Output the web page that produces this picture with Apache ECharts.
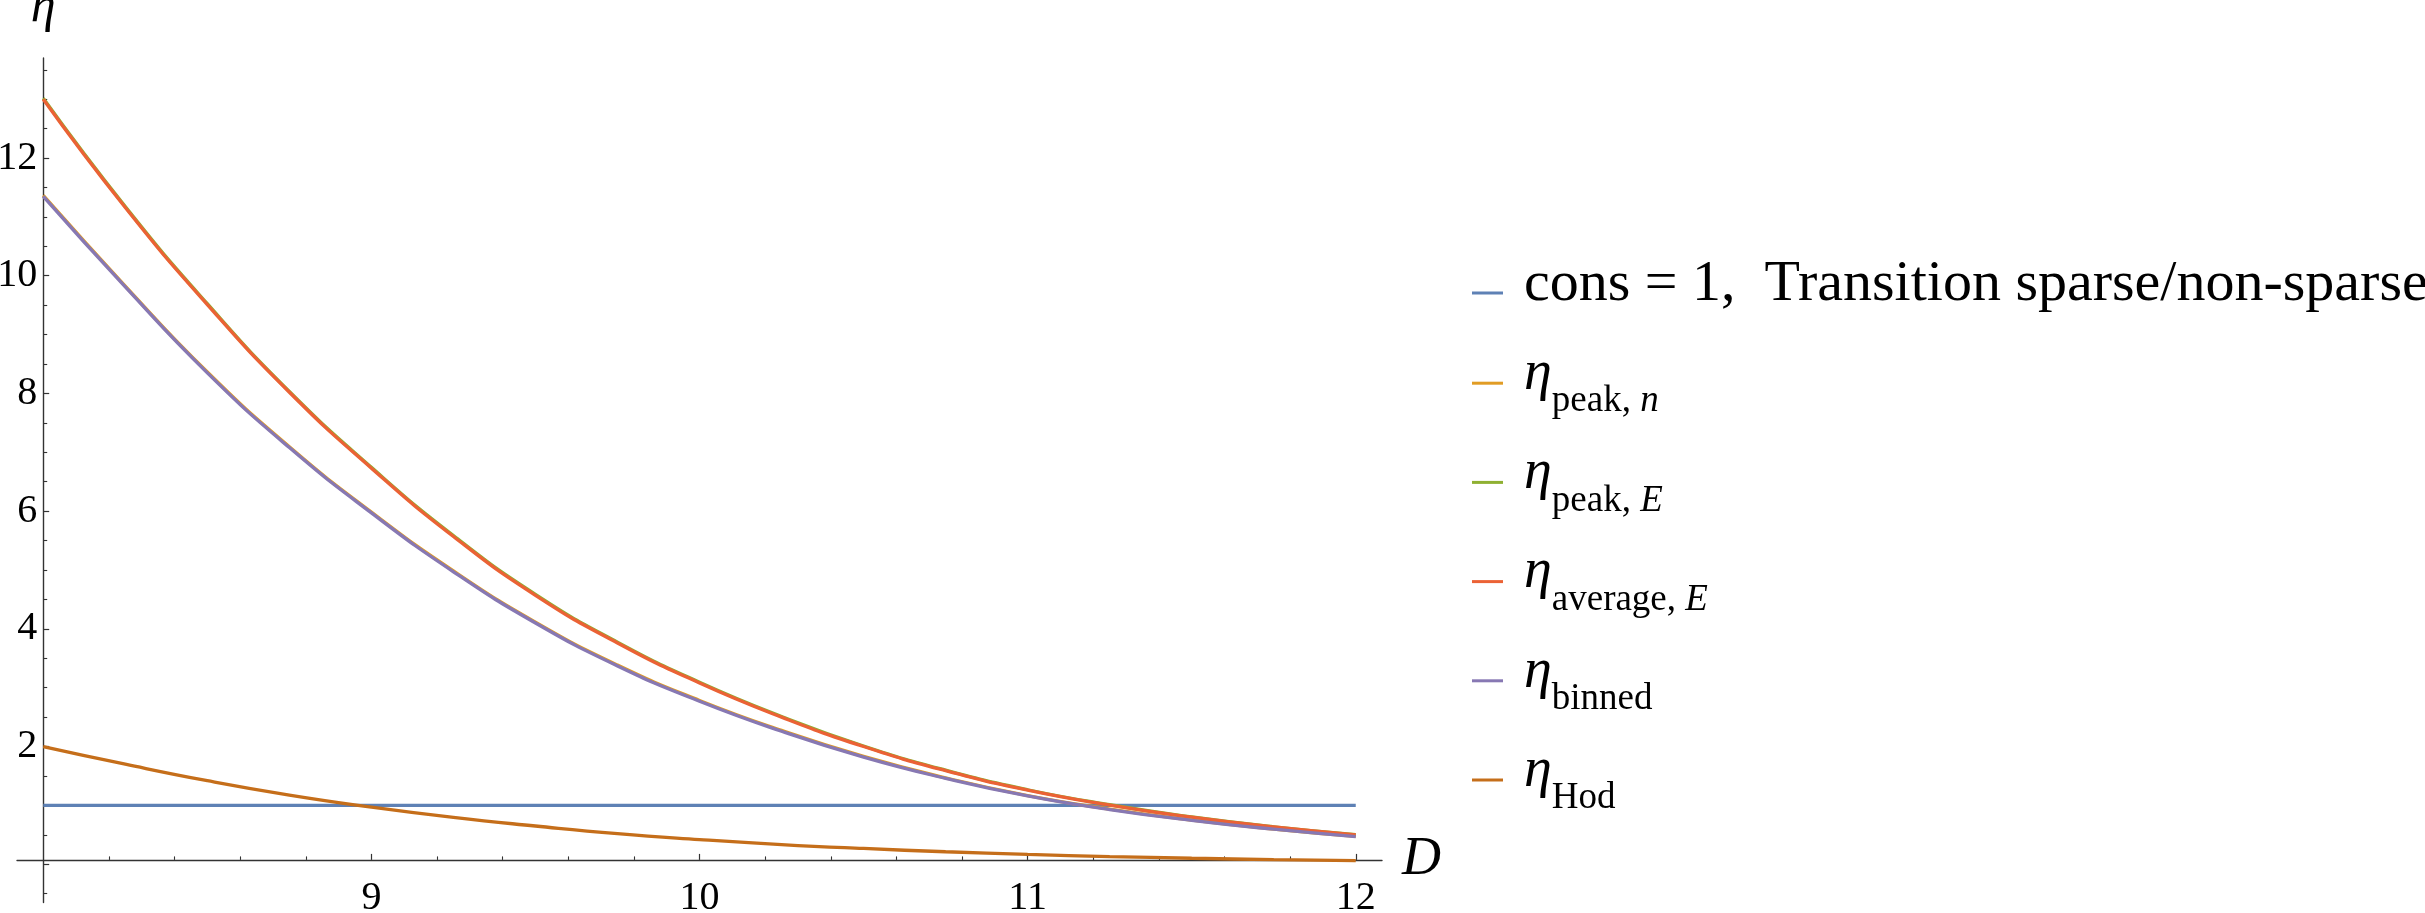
<!DOCTYPE html>
<html><head><meta charset="utf-8">
<script src="https://cdn.jsdelivr.net/npm/echarts@6/dist/echarts.min.js"></script>
<style>html,body{margin:0;padding:0;background:#fff}#c{width:2425px;height:913px}</style>
</head><body><div id="c"></div>
<script>
// ---- data ----
const D = [8, 8.25, 8.5, 8.75, 9, 9.25, 9.5, 9.75, 10, 10.25, 10.5, 10.75, 11, 11.25, 11.5, 11.75, 12];
const cons        = [1, 1, 1, 1, 1, 1, 1, 1, 1, 1, 1, 1, 1, 1, 1, 1, 1];
const etaPeakN    = [11.365, 9.825, 8.365, 7.095, 5.985, 4.985, 4.115, 3.385, 2.784, 2.274, 1.832, 1.468, 1.167, 0.937, 0.75, 0.598, 0.473];
const etaPeakE    = [13.015, 11.175, 9.525, 8.035, 6.745, 5.585, 4.585, 3.774, 3.093, 2.512, 2.01, 1.598, 1.266, 1.011, 0.804, 0.636, 0.503];
const etaAverageE = [13.00, 11.16, 9.51, 8.02, 6.73, 5.57, 4.57, 3.76, 3.08, 2.50, 2.00, 1.59, 1.26, 1.006, 0.80, 0.633, 0.50];
const etaBinned   = [11.35, 9.81, 8.35, 7.08, 5.97, 4.97, 4.10, 3.37, 2.77, 2.26, 1.82, 1.46, 1.16, 0.93, 0.745, 0.595, 0.47];
const etaHod      = [2.00, 1.70, 1.42, 1.175, 0.97, 0.795, 0.65, 0.52, 0.42, 0.335, 0.268, 0.212, 0.167, 0.131, 0.102, 0.079, 0.061];
const xTickLabels = [9, 10, 11, 12];
const xTickMarks  = [9, 10, 11, 12];
const yTickLabels = [2, 4, 6, 8, 10, 12];
const yTickMarks  = [0, 2, 4, 6, 8, 10, 12];
const seriesNames = ['cons', 'peakN', 'peakE', 'averageE', 'binned', 'Hod'];
const legendLabels = [
  '{sp| }{r|cons = 1,  Transition sparse/non-sparse}',
  '{sp| }{eta|η}{sub|peak, }{subi|n}',
  '{sp| }{eta|η}{sub|peak, }{subi|E}',
  '{sp| }{eta|η}{sub|average, }{subi|E}',
  '{sp| }{eta|η}{sub|binned}',
  '{sp| }{eta|η}{sub|Hod}'
];
const seriesValues = [cons, etaPeakN, etaPeakE, etaAverageE, etaBinned, etaHod];
const colors = ['#5E81B5', '#E19C24', '#8FB032', '#EB6235', '#8778B3', '#C56E1A'];

const FONT = '"Liberation Serif", "DejaVu Serif", serif';
const AXIS = '#333333';

const chart = echarts.init(document.getElementById('c'), null, {renderer: 'canvas'});
const option = {
  animation: false,
  backgroundColor: '#ffffff',
  grid: {left: 17, top: 58, width: 1365, height: 844.5, containLabel: false, outerBoundsMode: 'none'},
  xAxis: {
    type: 'value', min: 7.92, max: 12.08, offset: -42.6,
    name: 'D', nameLocation: 'end', nameGap: 20, nameMoveOverlap: false,
    nameTextStyle: {fontFamily: FONT, fontStyle: 'italic', fontSize: 54, color: '#000', padding: [0, 0, 8, 0]},
    axisLine: {onZero: false, lineStyle: {color: AXIS, width: 1.4}},
    axisTick: {inside: true, length: 6, customValues: xTickMarks, lineStyle: {color: AXIS, width: 1.2}},
    minorTick: {show: true, splitNumber: 5, length: 3.5, lineStyle: {color: AXIS, width: 1.1}},
    axisLabel: {customValues: xTickLabels, margin: 19, fontFamily: FONT, fontSize: 40, color: '#000'},
    splitLine: {show: false}, minorSplitLine: {show: false}
  },
  yAxis: {
    type: 'value', min: -0.65, max: 13.7, splitNumber: 7, offset: -26.2,
    name: 'η', nameLocation: 'end', nameGap: 25, nameMoveOverlap: false,
    nameTextStyle: {fontFamily: FONT, fontStyle: 'italic', fontSize: 50, color: '#000'},
    axisLine: {onZero: false, lineStyle: {color: AXIS, width: 1.4}},
    axisTick: {inside: true, length: 6, customValues: yTickMarks, lineStyle: {color: AXIS, width: 1.2}},
    minorTick: {show: true, splitNumber: 4, length: 4, lineStyle: {color: AXIS, width: 1.1}},
    axisLabel: {customValues: yTickLabels, margin: 6, fontFamily: FONT, fontSize: 40, color: '#000'},
    splitLine: {show: false}, minorSplitLine: {show: false}
  },
  legend: {
    orient: 'vertical', left: 1472, top: 256, padding: 0,
    itemWidth: 31, itemHeight: 3, itemGap: 25.2, icon: 'rect',
    data: seriesNames,
    formatter: function (name) { return legendLabels[seriesNames.indexOf(name)]; },
    textStyle: {
      fontFamily: FONT, color: '#000', fontSize: 56,
      rich: {
        sp: {width: 16, lineHeight: 74, fontSize: 56, fontFamily: FONT},
        r: {fontSize: 58, lineHeight: 54, verticalAlign: 'top', fontFamily: FONT, color: '#000'},
        eta: {fontSize: 56, fontStyle: 'italic', lineHeight: 54, verticalAlign: 'top', fontFamily: FONT, color: '#000'},
        sub: {fontSize: 37, lineHeight: 65, verticalAlign: 'bottom', fontFamily: FONT, color: '#000'},
        subi: {fontSize: 37, fontStyle: 'italic', lineHeight: 65, verticalAlign: 'bottom', fontFamily: FONT, color: '#000'}
      }
    }
  },
  series: seriesNames.map(function (nm, k) {
    return {
      name: nm, type: 'line', smooth: true, showSymbol: false, symbol: 'none',
      color: colors[k],
      lineStyle: {color: colors[k], width: 3.3},
      data: D.map(function (d, i) { return [d, seriesValues[k][i]]; })
    };
  })
};
chart.setOption(option);
</script></body></html>
